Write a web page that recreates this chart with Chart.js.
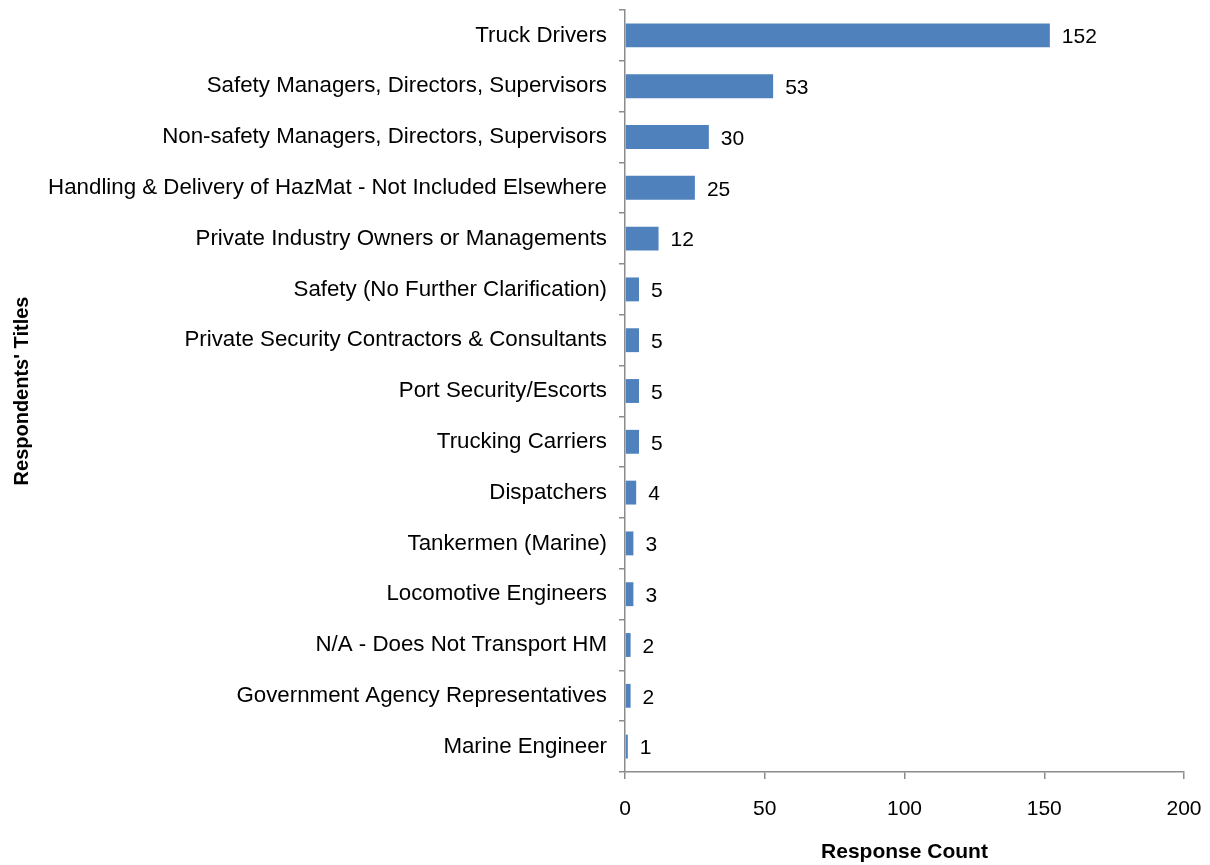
<!DOCTYPE html>
<html>
<head>
<meta charset="utf-8">
<script src="https://cdn.jsdelivr.net/npm/chart.js@4/dist/chart.umd.min.js"></script>
<style>
  html, body { margin: 0; padding: 0; background: #fff; }
  #wrap { width: 1210px; height: 865px; }
</style>
</head>
<body>
<div id="wrap"><canvas id="barChart"></canvas></div>
<script>
var titles = [
    "Truck Drivers",
    "Safety Managers, Directors, Supervisors",
    "Non-safety Managers, Directors, Supervisors",
    "Handling & Delivery of HazMat - Not Included Elsewhere",
    "Private Industry Owners or Managements",
    "Safety (No Further Clarification)",
    "Private Security Contractors & Consultants",
    "Port Security/Escorts",
    "Trucking Carriers",
    "Dispatchers",
    "Tankermen (Marine)",
    "Locomotive Engineers",
    "N/A - Does Not Transport HM",
    "Government Agency Representatives",
    "Marine Engineer"
];
var counts = [152, 53, 30, 25, 12, 5, 5, 5, 5, 4, 3, 3, 2, 2, 1];
var xTicks = [0, 50, 100, 150, 200];

var fontFamily = "'Liberation Sans', Arial, Helvetica, sans-serif";
var axisGrey = "#8c8c8c";

// value labels to the right of each bar
var valueLabels = {
    id: 'valueLabels',
    afterDatasetsDraw: function (chart) {
        var ctx = chart.ctx;
        var meta = chart.getDatasetMeta(0);
        ctx.save();
        ctx.font = "21px " + fontFamily;
        ctx.fillStyle = "#000";
        ctx.textAlign = "left";
        ctx.textBaseline = "middle";
        meta.data.forEach(function (bar, i) {
            ctx.fillText(String(counts[i]), bar.x + 12, bar.y + 2);
        });
        ctx.restore();
    }
};

var barData = {
    labels: titles,
    datasets: [{
        label: "Response Count",
        backgroundColor: "#4f81bd",
        borderWidth: 0,
        barPercentage: 0.47,
        categoryPercentage: 1.0,
        data: counts
    }]
};

var barOptions = {
    indexAxis: 'y',
    responsive: true,
    maintainAspectRatio: false,
    animation: false,
    layout: { padding: { left: 10, right: 26, top: 10, bottom: 0 } },
    plugins: {
        legend: { display: false },
        tooltip: { enabled: false }
    },
    scales: {
        x: {
            min: 0,
            max: 200,
            afterBuildTicks: function (scale) {
                scale.ticks = xTicks.map(function (v) { return { value: v }; });
            },
            afterFit: function (scale) {
                scale.height = 93;
                scale.paddingLeft = 0;
                scale.paddingRight = 0;
            },
            border: { display: true, color: axisGrey, width: 1.5 },
            grid: { drawOnChartArea: false, drawTicks: true, tickLength: 7, color: axisGrey, lineWidth: 1.5 },
            ticks: { color: "#000", padding: 18, maxRotation: 0, font: { family: fontFamily, size: 21 } },
            title: {
                display: true,
                text: "Response Count",
                color: "#000",
                padding: { top: 2, bottom: 0 },
                font: { family: fontFamily, size: 21, weight: 'bold' }
            }
        },
        y: {
            afterFit: function (scale) {
                scale.width = 615;
                scale.paddingTop = 0;
                scale.paddingBottom = 0;
            },
            border: { display: true, color: axisGrey, width: 1.5 },
            grid: { drawOnChartArea: false, drawTicks: true, tickLength: 6, offset: true, color: axisGrey, lineWidth: 1.5 },
            ticks: { color: "#000", padding: 12, autoSkip: false, font: { family: fontFamily, size: 22.3 } },
            title: {
                display: true,
                text: "Respondents' Titles",
                color: "#000",
                padding: 0,
                font: { family: fontFamily, size: 20, weight: 'bold' }
            }
        }
    }
};

var ctx = document.getElementById("barChart").getContext("2d");
new Chart(ctx, { type: 'bar', data: barData, options: barOptions, plugins: [valueLabels] });
</script>
</body>
</html>
